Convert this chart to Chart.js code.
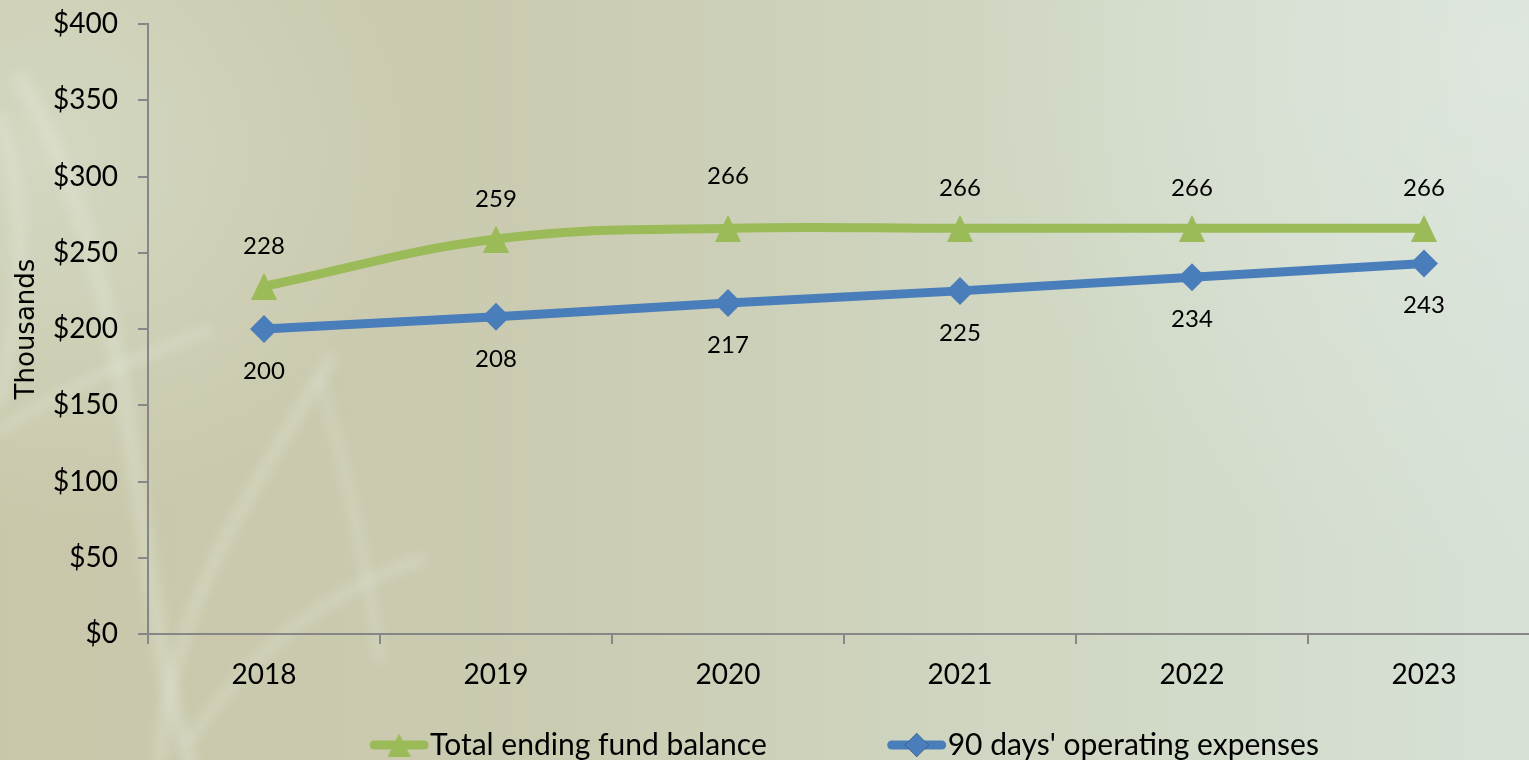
<!DOCTYPE html>
<html>
<head>
<meta charset="utf-8">
<script src="https://cdn.jsdelivr.net/npm/chart.js@4.4.0/dist/chart.umd.min.js"></script>
<style>
  html, body { margin: 0; padding: 0; width: 1529px; height: 760px; overflow: hidden; }
  #bg, #chart { position: absolute; left: 0; top: 0; }
</style>
</head>
<body>
<canvas id="bg" width="1529" height="760"></canvas>
<canvas id="chart" width="1690" height="760" style="width:1690px;height:760px"></canvas>
<script>
// fund balance vs. 90 days of operating expenses, in thousands
const years = ['2018', '2019', '2020', '2021', '2022', '2023'];
const fundBalance = [228, 259, 266, 266, 266, 266];
const operatingExpenses = [200, 208, 217, 225, 234, 243];
const seriesNames = ['Total ending fund balance', "90 days' operating expenses"];
const yMin = 0, yMax = 400, yStep = 50;

const GREEN = '#9bbb59';
const BLUE = '#4a7ebb';
const AXIS = '#878787';
const FONT = "Lato, sans-serif";

// soft textured backdrop
(function paintBackground() {
  const c = document.getElementById('bg').getContext('2d');
  const w = 1529, h = 760;
  const g = c.createLinearGradient(0, 0, w, 0);
  g.addColorStop(0, '#c9c7aa');
  g.addColorStop(0.35, '#cbcbb1');
  g.addColorStop(0.7, '#d0d8c4');
  g.addColorStop(1, '#d7e1d6');
  c.fillStyle = g;
  c.fillRect(0, 0, w, h);
  const r = c.createRadialGradient(40, 150, 10, 40, 150, 380);
  r.addColorStop(0, 'rgba(218,226,208,0.6)');
  r.addColorStop(1, 'rgba(218,226,208,0)');
  c.fillStyle = r;
  c.fillRect(0, 0, w, h);
  const r2 = c.createRadialGradient(1500, 60, 10, 1500, 60, 520);
  r2.addColorStop(0, 'rgba(226,233,226,0.6)');
  r2.addColorStop(1, 'rgba(226,233,226,0)');
  c.fillStyle = r2;
  c.fillRect(0, 0, w, h);
  // faint light streaks on the left side
  c.filter = 'blur(6px)';
  c.strokeStyle = 'rgba(232,238,225,0.3)';
  c.lineCap = 'round';
  const streaks = [
    [[20, 80], [150, 300], [130, 600], [190, 760], 16],
    [[330, 360], [260, 480], [170, 600], [160, 760], 12],
    [[420, 560], [330, 590], [250, 650], [190, 740], 10],
    [[320, 380], [350, 480], [365, 560], [380, 660], 8],
    [[0, 430], [60, 390], [130, 360], [210, 330], 10],
    [[0, 120], [35, 230], [15, 330], [0, 400], 14]
  ];
  streaks.forEach(s => {
    c.lineWidth = s[4];
    c.beginPath();
    c.moveTo(s[0][0], s[0][1]);
    c.bezierCurveTo(s[1][0], s[1][1], s[2][0], s[2][1], s[3][0], s[3][1]);
    c.stroke();
  });
  c.filter = 'none';
})();

// triangle marker centred on its bounding box
function triangleMarker(w, h, color) {
  const cv = document.createElement('canvas');
  cv.width = w;
  cv.height = h;
  const c = cv.getContext('2d');
  c.fillStyle = color;
  c.beginPath();
  c.moveTo(w / 2, 0);
  c.lineTo(w, h);
  c.lineTo(0, h);
  c.closePath();
  c.fill();
  return cv;
}
const triangleBig = triangleMarker(26, 27, GREEN);
const triangleSmall = triangleMarker(23, 23, GREEN);

// value labels above / below each point
const valueLabels = {
  id: 'valueLabels',
  afterDatasetsDraw(chart) {
    const ctx = chart.ctx;
    ctx.save();
    ctx.font = '24px ' + FONT;
    ctx.fillStyle = '#000';
    ctx.textAlign = 'center';
    ctx.textBaseline = 'middle';
    chart.data.datasets.forEach((ds, di) => {
      chart.getDatasetMeta(di).data.forEach((pt, i) => {
        let dy = di === 0 ? -40 : 42;
        if (di === 0 && i === 2) dy = -52;
        ctx.fillText(String(ds.data[i]), pt.x, pt.y + dy);
      });
    });
    ctx.restore();
  }
};

// legend row under the axis: line with marker, then the series name
const lineLegend = {
  id: 'lineLegend',
  afterDraw(chart) {
    const ctx = chart.ctx;
    const area = chart.chartArea;
    const y = 745, swatch = 60, gap = 120;
    ctx.save();
    ctx.font = '30px ' + FONT;
    ctx.textBaseline = 'middle';
    const widths = chart.data.datasets.map(ds => swatch + 1 + ctx.measureText(ds.label).width);
    const total = widths.reduce((a, b) => a + b, 0) + gap * (widths.length - 1);
    let x = (area.left + area.right) / 2 - total / 2;
    chart.data.datasets.forEach((ds, i) => {
      ctx.strokeStyle = ds.borderColor;
      ctx.lineWidth = 9;
      ctx.lineCap = 'round';
      ctx.beginPath();
      ctx.moveTo(x + 5, y);
      ctx.lineTo(x + swatch - 5, y);
      ctx.stroke();
      const cx = x + swatch / 2;
      if (ds.pointStyle === triangleBig) {
        ctx.drawImage(triangleSmall, cx - triangleSmall.width / 2, y - triangleSmall.height / 2);
      } else {
        Chart.helpers.drawPoint(ctx, {
          pointStyle: ds.pointStyle, radius: ds.pointRadius - 2, borderWidth: 0, rotation: 0
        }, cx, y);
        ctx.fillStyle = ds.borderColor;
        ctx.fill();
      }
      ctx.fillStyle = '#000';
      ctx.fillText(ds.label, x + swatch + 1, y);
      x += widths[i] + gap;
    });
    ctx.restore();
  }
};

new Chart(document.getElementById('chart'), {
  type: 'line',
  data: {
    labels: years,
    datasets: [
      {
        label: seriesNames[0],
        data: fundBalance,
        borderColor: GREEN,
        backgroundColor: GREEN,
        borderWidth: 9,
        tension: 0.4,
        pointStyle: triangleBig,
        pointRadius: 15,
        pointBorderWidth: 0,
        pointBackgroundColor: GREEN
      },
      {
        label: seriesNames[1],
        data: operatingExpenses,
        borderColor: BLUE,
        backgroundColor: BLUE,
        borderWidth: 9,
        tension: 0,
        pointStyle: 'rectRot',
        pointRadius: 14,
        pointBorderWidth: 0,
        pointBackgroundColor: BLUE
      }
    ]
  },
  options: {
    responsive: false,
    animation: false,
    layout: { padding: { left: 0, top: 24, right: 150, bottom: 0 } },
    plugins: {
      legend: { display: false },
      tooltip: { enabled: false }
    },
    scales: {
      x: {
        offset: true,
        afterFit(scale) { scale.height = 126; },
        grid: { offset: true, drawOnChartArea: false, tickLength: 10, color: AXIS, lineWidth: 2 },
        border: { color: AXIS, width: 2 },
        ticks: { color: '#000', font: { family: FONT, size: 28 }, padding: 14, maxRotation: 0 }
      },
      y: {
        min: yMin,
        max: yMax,
        afterFit(scale) {
          scale.width = 148;
          scale.paddingTop = 0;
          scale.paddingBottom = 0;
        },
        grid: { drawOnChartArea: false, tickLength: 10, color: AXIS, lineWidth: 2 },
        border: { color: AXIS, width: 2 },
        ticks: {
          stepSize: yStep,
          color: '#000',
          font: { family: FONT, size: 28 },
          padding: 20,
          callback: v => '$' + v
        },
        title: {
          display: true,
          text: 'Thousands',
          color: '#000',
          font: { family: "'DejaVu Sans', sans-serif", size: 26 },
          padding: { top: 12, bottom: 0 }
        }
      }
    }
  },
  plugins: [valueLabels, lineLegend]
});
</script>
</body>
</html>
